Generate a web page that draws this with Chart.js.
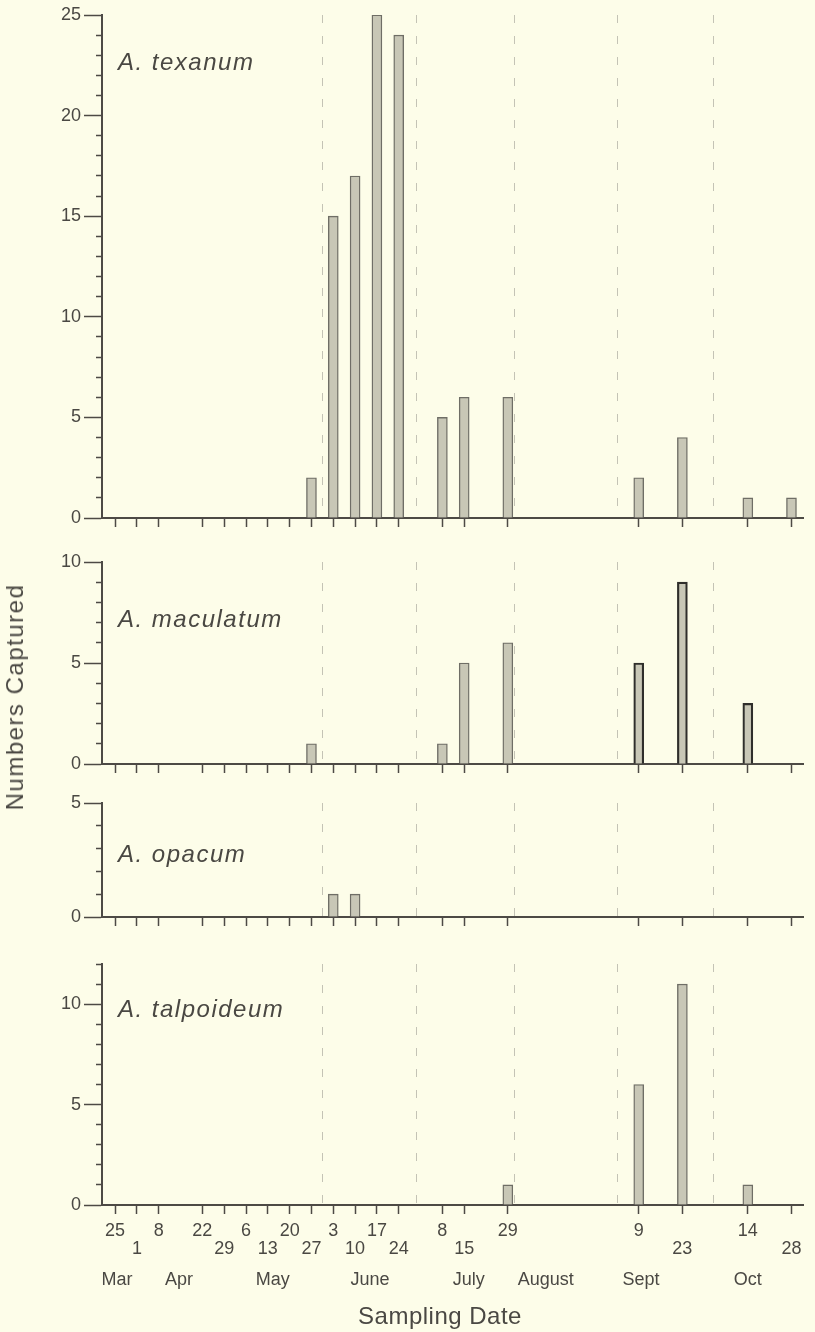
<!DOCTYPE html>
<html>
<head>
<meta charset="utf-8">
<script src="https://cdn.jsdelivr.net/npm/chart.js@4.4.1/dist/chart.umd.min.js"></script>
<style>
  html, body { margin: 0; padding: 0; background: #fdfde9; }
  #figure { position: relative; width: 815px; height: 1332px; overflow: hidden; }
  #figure canvas { position: absolute; left: 0; }
  #ytitle {
    position: absolute; left: 15px; top: 697px;
    transform: translate(-50%, -50%) rotate(-90deg);
    font: 24px "Liberation Sans", sans-serif; letter-spacing: 1.5px;
    color: #4a4843; white-space: nowrap;
  }
</style>
</head>
<body>
<div id="figure">
  <canvas id="p1" width="815" height="538" style="top:0px"></canvas>
  <canvas id="p2" width="815" height="244" style="top:540px"></canvas>
  <canvas id="p3" width="815" height="153" style="top:784px"></canvas>
  <canvas id="p4" width="815" height="392" style="top:940px"></canvas>
  <div id="ytitle">Numbers Captured</div>
</div>
<script>
(() => {
  'use strict';

  // ── Data ────────────────────────────────────────────────────────────────────

  // sampling dates as days after 25 March
  const SAMPLE_DAYS = [0, 7, 14, 28, 35, 42, 49, 56, 63, 70, 77, 84, 91, 105, 112, 126, 168, 182, 203, 217];
  const DAY_LABELS  = ['25', '1', '8', '22', '29', '6', '13', '20', '27', '3', '10', '17', '24', '8', '15', '29', '9', '23', '14', '28'];
  const LABEL_ROW   = [0, 1, 0, 0, 1, 0, 1, 0, 1, 0, 1, 0, 1, 0, 1, 0, 0, 1, 0, 1];

  const MONTHS           = ['Mar', 'Apr', 'May', 'June', 'July', 'August', 'Sept', 'Oct'];
  const MONTH_LABEL_DAYS = [0.6, 20.5, 50.6, 81.8, 113.5, 138.2, 168.7, 203];
  const MONTH_DIVIDERS   = [66.5, 96.5, 128, 161, 191.7];

  const TEXANUM    = [0, 0, 0, 0, 0, 0, 0, 0, 2, 15, 17, 25, 24, 5, 6, 6, 2, 4, 1, 1];
  const MACULATUM  = [0, 0, 0, 0, 0, 0, 0, 0, 1, 0, 0, 0, 0, 1, 5, 6, 5, 9, 3, 0];
  const OPACUM     = [0, 0, 0, 0, 0, 0, 0, 0, 0, 1, 1, 0, 0, 0, 0, 0, 0, 0, 0, 0];
  const TALPOIDEUM = [0, 0, 0, 0, 0, 0, 0, 0, 0, 0, 0, 0, 0, 0, 0, 1, 6, 11, 1, 0];

  // bars drawn with a heavier outline in the original (A. maculatum, Sept/Oct)
  const MACULATUM_HEAVY = [168, 182, 203];

  // ── Look ────────────────────────────────────────────────────────────────────

  const FONT     = '"Liberation Sans", Arial, sans-serif';
  const INK      = '#4a4843';
  const AXIS     = '#4d4a45';
  const BAR_FILL = '#c8c7b6';
  const BAR_EDGE = '#6f6e66';
  const BAR_DARK = '#2f2e2b';
  const X_MIN = -4.2;
  const X_MAX = 220.7;

  Chart.defaults.font.family = FONT;
  Chart.defaults.color = INK;

  const PANELS = [
    { id: 'p1', name: 'A. texanum',    data: TEXANUM,    max: 25, padTop: 15, axisH: 20,  labelY: 70 },
    { id: 'p2', name: 'A. maculatum',  data: MACULATUM,  max: 10, padTop: 22, axisH: 20,  labelY: 87, heavy: MACULATUM_HEAVY },
    { id: 'p3', name: 'A. opacum',     data: OPACUM,     max: 5,  padTop: 19, axisH: 20,  labelY: 78 },
    { id: 'p4', name: 'A. talpoideum', data: TALPOIDEUM, max: 12, padTop: 24, axisH: 127, labelY: 77, bottom: true },
  ];

  // ── Decorations: month dividers, species names, month row, axis title ──────

  const decorations = {
    id: 'decorations',
    beforeDatasetsDraw(chart) {
      const { ctx, chartArea: a, scales: { x } } = chart;
      ctx.save();
      ctx.strokeStyle = '#c4c3b5';
      ctx.lineWidth = 1;
      ctx.setLineDash([8, 13]);
      MONTH_DIVIDERS.forEach(d => {
        const px = Math.round(x.getPixelForValue(d)) + 0.5;
        ctx.beginPath();
        ctx.moveTo(px, a.top);
        ctx.lineTo(px, a.bottom);
        ctx.stroke();
      });
      ctx.restore();
    },
    afterDraw(chart, args, opts) {
      const { ctx, chartArea: a, scales: { x } } = chart;
      ctx.save();
      ctx.fillStyle = INK;
      ctx.textBaseline = 'alphabetic';
      ctx.textAlign = 'left';
      ctx.font = `italic 24px ${FONT}`;
      ctx.letterSpacing = '1.5px';
      ctx.fillText(opts.name, a.left + 16, opts.labelY);
      ctx.letterSpacing = '0px';

      if (opts.bottom) {
        ctx.textAlign = 'center';
        ctx.textBaseline = 'middle';
        ctx.font = `18px ${FONT}`;
        MONTHS.forEach((m, i) => {
          ctx.fillText(m, x.getPixelForValue(MONTH_LABEL_DAYS[i]), a.bottom + 75);
        });
        ctx.font = `24px ${FONT}`;
        ctx.letterSpacing = '0.5px';
        ctx.fillText('Sampling Date', 440, a.bottom + 112);
      }
      ctx.restore();
    },
  };

  // ── Charts ──────────────────────────────────────────────────────────────────

  function buildPanel(p) {
    const ctx = document.getElementById(p.id).getContext('2d');
    const heavy = p.heavy || [];

    return new Chart(ctx, {
      type: 'bar',
      data: {
        datasets: [{
          label: p.name,
          data: SAMPLE_DAYS.map((d, i) => ({ x: d, y: p.data[i] })),
          backgroundColor: BAR_FILL,
          borderColor: c => heavy.includes(c.raw.x) ? BAR_DARK : BAR_EDGE,
          borderWidth: c => heavy.includes(c.raw.x) ? 2.2 : 1.4,
          barThickness: 10,
        }],
      },
      options: {
        responsive: false,
        animation: false,
        devicePixelRatio: 1,
        layout: { padding: { top: p.padTop, right: 12, bottom: 0, left: 0 } },
        plugins: {
          legend: { display: false },
          tooltip: { enabled: false },
          decorations: { name: p.name, labelY: p.labelY, bottom: !!p.bottom },
        },
        scales: {
          x: {
            type: 'linear',
            min: X_MIN,
            max: X_MAX,
            offset: false,
            afterBuildTicks: axis => { axis.ticks = SAMPLE_DAYS.map(v => ({ value: v })); },
            afterFit: axis => { axis.height = p.axisH; },
            border: { display: true, color: AXIS, width: 2 },
            grid: {
              offset: false,
              drawOnChartArea: false,
              drawTicks: true,
              tickLength: 9,
              tickColor: AXIS,
              tickWidth: 1.5,
            },
            ticks: {
              display: !!p.bottom,
              autoSkip: false,
              maxRotation: 0,
              padding: 8,
              font: { size: 18, lineHeight: 1.0 },
              color: INK,
              callback: value => {
                const k = SAMPLE_DAYS.indexOf(value);
                if (k < 0) return '';
                return LABEL_ROW[k] ? ['', DAY_LABELS[k]] : [DAY_LABELS[k]];
              },
            },
          },
          y: {
            min: 0,
            max: p.max,
            afterFit: axis => { axis.width = 102; },
            border: { display: true, color: AXIS, width: 2 },
            grid: {
              drawOnChartArea: false,
              drawTicks: true,
              tickLength: 18,
              tickColor: AXIS,
              tickWidth: 1.5,
              // minor ticks: only the last 6 px next to the axis are inked
              tickBorderDash: c => (c.tick && c.tick.value % 5 !== 0) ? [0, 12, 7, 100] : [],
            },
            ticks: {
              stepSize: 1,
              autoSkip: false,
              padding: 3,
              font: { size: 18 },
              color: INK,
              callback: v => (v % 5 === 0 ? v : ''),
            },
          },
        },
      },
      plugins: [decorations],
    });
  }

  PANELS.forEach(buildPanel);
})();
</script>
</body>
</html>
